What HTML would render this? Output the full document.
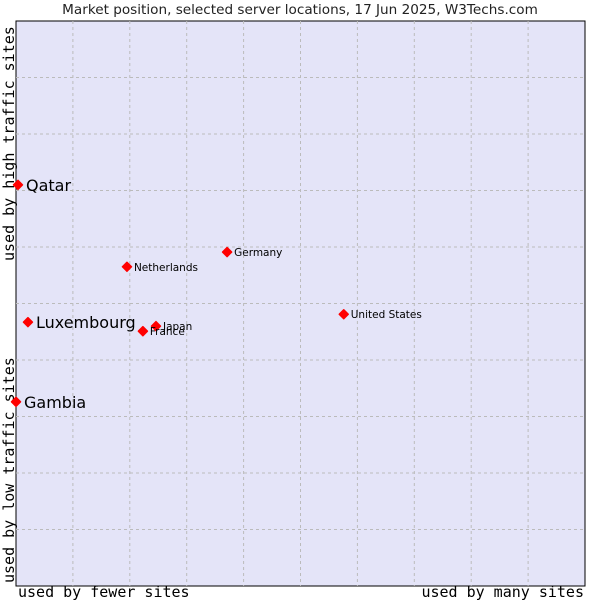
<!DOCTYPE html>
<html><head><meta charset="utf-8"><style>
body{margin:0;background:#fff;width:600px;height:600px;overflow:hidden}
svg{display:block}
</style></head><body>
<svg id="chart" width="600" height="600" xmlns="http://www.w3.org/2000/svg">
<text x="300" y="14" text-anchor="middle" font-family="'DejaVu Sans',sans-serif" font-size="13.6" fill="#222">Market position, selected server locations, 17 Jun 2025, W3Techs.com</text>
<rect x="16" y="21" width="569" height="565" fill="#e4e4f8" stroke="#000" stroke-width="1"/>
<g id="grid"></g>
<text x="18" y="597" font-family="'DejaVu Sans Mono','Liberation Mono',monospace" font-size="15" fill="#000">used by fewer sites</text>
<text x="584" y="597" text-anchor="end" font-family="'DejaVu Sans Mono','Liberation Mono',monospace" font-size="15" fill="#000">used by many sites</text>
<text transform="translate(14,583) rotate(-90)" font-family="'DejaVu Sans Mono','Liberation Mono',monospace" font-size="15" fill="#000">used by low traffic sites</text>
<text transform="translate(14,261) rotate(-90)" font-family="'DejaVu Sans Mono','Liberation Mono',monospace" font-size="15" fill="#000">used by high traffic sites</text>
<g id="points"></g>
</svg>
<script>
const names = ["Qatar","Luxembourg","Gambia","Netherlands","Germany","Japan","France","United States"];
const xValues = [0.35,2.1,0,19.5,37.1,24.6,22.3,57.6];
const yValues = [71.0,46.7,32.6,56.5,59.1,46.0,45.1,48.1];
const bigLabel = [true,true,true,false,false,false,false,false];
const L=16,T=21,W=569,H=565;
const sx=v=>L+v/100*W, sy=v=>T+H-v/100*H;
const NS="http://www.w3.org/2000/svg";
const grid=document.getElementById('grid');
for(let i=1;i<10;i++){
  const gx=L+W*i/10, gy=T+H*i/10;
  const lv=document.createElementNS(NS,'line');
  lv.setAttribute('x1',gx);lv.setAttribute('x2',gx);lv.setAttribute('y1',T);lv.setAttribute('y2',T+H);
  lv.setAttribute('stroke','#bbb');lv.setAttribute('stroke-dasharray','3,3');
  
  
  grid.appendChild(lv);
  const lh=document.createElementNS(NS,'line');
  lh.setAttribute('y1',gy);lh.setAttribute('y2',gy);lh.setAttribute('x1',L);lh.setAttribute('x2',L+W);
  lh.setAttribute('stroke','#bbb');lh.setAttribute('stroke-dasharray','3,3');
  
  
  grid.appendChild(lh);
}
const pts=document.getElementById('points');
names.forEach((n,i)=>{
  const x=sx(xValues[i]), y=sy(yValues[i]);
  const d=document.createElementNS(NS,'path');
  d.setAttribute('d',`M${x},${y-4.5}L${x+4.5},${y}L${x},${y+4.5}L${x-4.5},${y}Z`);
  d.setAttribute('fill','#f00');
  d.setAttribute('stroke','#f00');
  d.setAttribute('stroke-width','1.5');
  d.setAttribute('stroke-linejoin','round');
  
  
  pts.appendChild(d);
  const t=document.createElementNS(NS,'text');
  const big=bigLabel[i];
  t.setAttribute('x',x+(big?8:7));
  t.setAttribute('y',y+(big?6:4));
  t.setAttribute('font-family',"'DejaVu Sans',sans-serif");
  t.setAttribute('font-size',big?16:10.5);
  t.setAttribute('fill','#000');
  t.textContent=n;
  
  
  pts.appendChild(t);
});
</script>
</body></html>
